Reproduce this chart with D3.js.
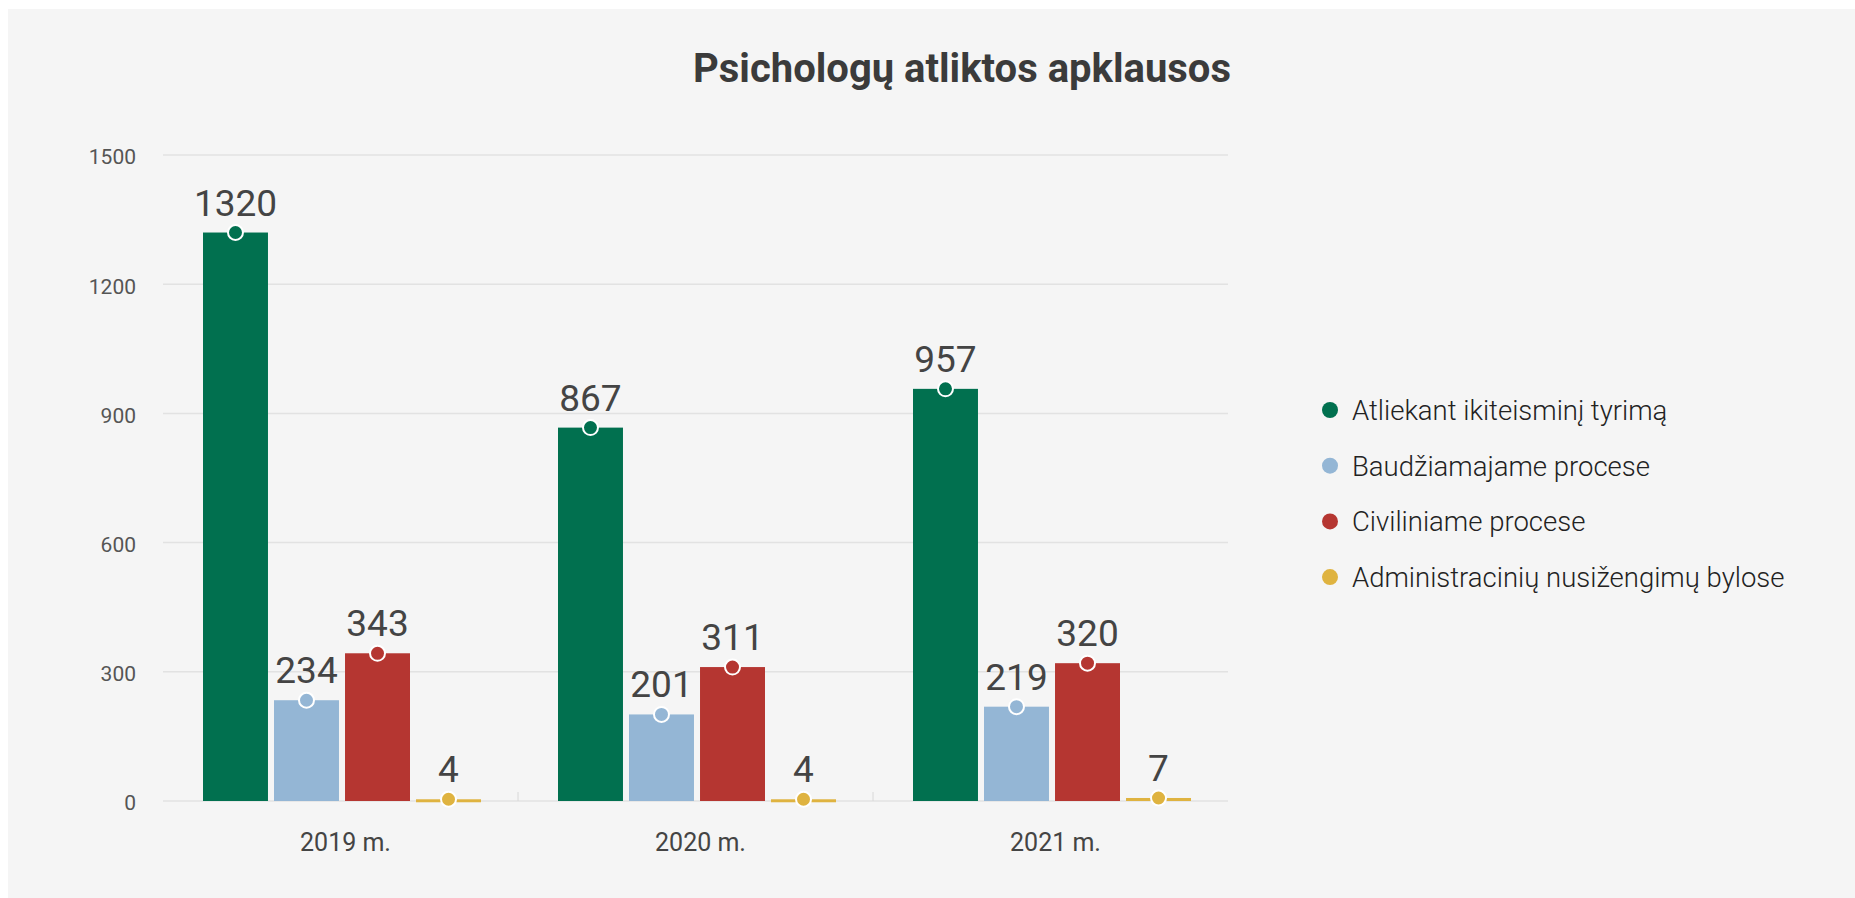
<!DOCTYPE html>
<html>
<head>
<meta charset="utf-8">
<script src="https://cdn.jsdelivr.net/npm/d3@7"></script>
<style>
  html, body { margin: 0; padding: 0; background: #fff; }
  svg { display: block; }
  text { font-family: Roboto, "Noto Sans", sans-serif; }
</style>
</head>
<body>
<div id="vis"></div>
<script>
var years = ["2019 m.", "2020 m.", "2021 m."];
var series = ["Atliekant ikiteisminį tyrimą", "Baudžiamajame procese", "Civiliniame procese", "Administracinių nusižengimų bylose"];
var colors = ["#01704f", "#94b6d5", "#b53631", "#dfb340"];
// values per series, one per year
var ikiteisminis = [1320, 867, 957];
var baudziamasis = [234, 201, 219];
var civilinis = [343, 311, 320];
var administracinis = [4, 4, 7];
var yTicks = [0, 300, 600, 900, 1200, 1500];

var values = [ikiteisminis, baudziamasis, civilinis, administracinis];
var width = 1855, height = 898;

var svg = d3.select("#vis").append("svg")
  .attr("width", width)
  .attr("height", height);

// panel
svg.append("rect")
  .attr("x", 8).attr("y", 9)
  .attr("width", width - 8).attr("height", height - 9)
  .attr("fill", "#f5f5f5");

svg.append("text")
  .attr("x", 962).attr("y", 82)
  .attr("text-anchor", "middle")
  .style("font-size", "40px")
  .style("font-weight", 700)
  .style("fill", "#3b3b3b")
  .text("Psichologų atliktos apklausos");

////////// scales //////////
var x0 = d3.scaleBand().domain(years).range([163, 1228]);
var x1 = d3.scaleBand().domain(series)
  .range([40, x0.bandwidth() - 37])
  .paddingInner(0.085);
var y = d3.scaleLinear().domain([0, 1500]).range([801, 155]);

// grid + y labels
var grid = svg.append("g");
grid.selectAll("line")
  .data(yTicks)
  .enter().append("line")
  .attr("x1", 163).attr("x2", 1228)
  .attr("y1", function (d) { return y(d); })
  .attr("y2", function (d) { return y(d); })
  .attr("stroke", "#e2e2e2")
  .attr("stroke-width", 1.5);
grid.selectAll("text")
  .data(yTicks)
  .enter().append("text")
  .attr("x", 136)
  .attr("y", function (d) { return y(d); })
  .attr("dy", "0.45em")
  .attr("text-anchor", "end")
  .style("font-size", "21px")
  .style("fill", "#555")
  .text(function (d) { return d; });

// separators between years
svg.append("g").selectAll("line")
  .data(years.slice(1))
  .enter().append("line")
  .attr("x1", function (d) { return x0(d); })
  .attr("x2", function (d) { return x0(d); })
  .attr("y1", y(0) - 9).attr("y2", y(0))
  .attr("stroke", "#d8d8d8")
  .attr("stroke-width", 1);

// x labels
svg.append("g").selectAll("text")
  .data(years)
  .enter().append("text")
  .attr("x", function (d) { return x0(d) + x0.bandwidth() / 2 + 5; })
  .attr("y", 851)
  .attr("text-anchor", "middle")
  .style("font-size", "25px")
  .style("fill", "#444")
  .text(function (d) { return d; });

////////// bars //////////
var groups = svg.append("g").selectAll("g")
  .data(years)
  .enter().append("g")
  .attr("transform", function (d) { return "translate(" + x0(d) + ",0)"; });

var cells = groups.selectAll("g")
  .data(function (d, i) {
    return series.map(function (s, j) { return { s: s, j: j, v: values[j][i] }; });
  })
  .enter().append("g");

cells.append("rect")
  .attr("x", function (d) { return x1(d.s); })
  .attr("y", function (d) { return y(d.v); })
  .attr("width", x1.bandwidth())
  .attr("height", function (d) { return Math.max(y(0) - y(d.v), 3); })
  .attr("fill", function (d) { return colors[d.j]; });

cells.append("circle")
  .attr("cx", function (d) { return x1(d.s) + x1.bandwidth() / 2; })
  .attr("cy", function (d) { return y(d.v); })
  .attr("r", 7.5)
  .attr("fill", function (d) { return colors[d.j]; })
  .attr("stroke", "#fff")
  .attr("stroke-width", 2);

cells.append("text")
  .attr("x", function (d) { return x1(d.s) + x1.bandwidth() / 2; })
  .attr("y", function (d) { return y(d.v) - 17; })
  .attr("text-anchor", "middle")
  .style("font-size", "37px")
  .style("fill", "#444")
  .text(function (d) { return d.v; });

////////// legend //////////
var legend = svg.append("g").selectAll("g")
  .data(series)
  .enter().append("g")
  .attr("transform", function (d, i) { return "translate(1330," + (410 + i * 55.7) + ")"; });
legend.append("circle")
  .attr("r", 8)
  .attr("fill", function (d, i) { return colors[i]; });
legend.append("text")
  .attr("x", 22).attr("y", 10)
  .style("font-size", "27.5px")
  .style("font-weight", 300)
  .style("fill", "#222")
  .text(function (d) { return d; });
</script>
</body>
</html>
